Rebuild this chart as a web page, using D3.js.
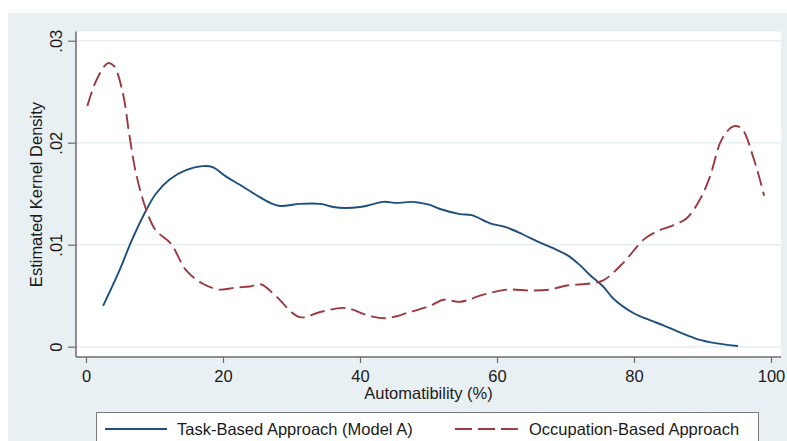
<!DOCTYPE html>
<html>
<head>
<meta charset="utf-8">
<script src="https://cdn.jsdelivr.net/npm/d3@7"></script>
<style>
  body { margin: 0; background: #ffffff; }
  svg { display: block; }
  text { font-family: "Liberation Sans", Arial, sans-serif; fill: #1a1a1a; }
</style>
</head>
<body>
<svg id="chart" width="787" height="441"></svg>
<script>
// ---- Data ----
const taskX = [2.5, 4.9, 6.6, 8.8, 10.2, 12.2, 14.6, 17.0, 18.5, 20.4, 22.4, 24.8, 26.9, 28.3, 31.2, 34.2, 36.1, 37.8, 40.0, 41.5, 43.4, 45.4, 47.5, 48.8, 50.2, 51.7, 54.6, 56.3, 59.0, 61.4, 63.8, 66.3, 68.7, 70.2, 72.1, 73.6, 75.5, 77.0, 79.9, 82.3, 84.3, 86.7, 89.2, 92.1, 95.2];
const taskY = [0.0040, 0.0075, 0.0103, 0.0134, 0.0150, 0.0164, 0.0173, 0.0177, 0.0176, 0.0167, 0.0159, 0.0149, 0.0141, 0.0138, 0.0140, 0.0140, 0.0137, 0.0136, 0.0137, 0.0139, 0.0142, 0.0141, 0.0142, 0.0141, 0.0139, 0.0135, 0.0130, 0.0129, 0.0121, 0.0117, 0.0110, 0.0102, 0.0095, 0.0090, 0.0080, 0.0070, 0.0059, 0.0047, 0.0033, 0.0026, 0.0021, 0.0014, 0.00075, 0.00033, 0.00007];

const occX = [0.2, 1.5, 3.2, 4.1, 5.4, 6.3, 7.3, 8.8, 10.2, 12.4, 14.6, 17.0, 19.5, 21.9, 23.9, 25.6, 27.8, 31.2, 34.2, 37.8, 41.5, 43.9, 47.3, 50.2, 52.2, 54.6, 58.0, 61.4, 64.8, 67.7, 70.2, 73.6, 75.5, 78.4, 81.4, 83.3, 85.7, 87.7, 89.6, 91.1, 92.8, 94.5, 95.7, 97.4, 99.0];
const occY = [0.0236, 0.0261, 0.0278, 0.0275, 0.0248, 0.0209, 0.0170, 0.0134, 0.0114, 0.0101, 0.0075, 0.0062, 0.0056, 0.0058, 0.0059, 0.0061, 0.0049, 0.0029, 0.0034, 0.0038, 0.0030, 0.0028, 0.0034, 0.0040, 0.0046, 0.0044, 0.0051, 0.0056, 0.0055, 0.0056, 0.0060, 0.0062, 0.0065, 0.0082, 0.0105, 0.0113, 0.0119, 0.0126, 0.0144, 0.0167, 0.0203, 0.0216, 0.0214, 0.0186, 0.0148];

const xTicks = [0, 20, 40, 60, 80, 100];
const yTicks = [0, 0.01, 0.02, 0.03];
const yTickLabels = ["0", ".01", ".02", ".03"];
const seriesNames = ["Task-Based Approach (Model A)", "Occupation-Based Approach"];
const xTitle = "Automatibility (%)";
const yTitle = "Estimated Kernel Density";

// ---- Layout ----
const W = 787, H = 441;
const FS = 16.5;
const svg = d3.select("#chart");
const plotL = 76, plotR = 781, plotT = 31.5, plotB = 357;
const x = d3.scaleLinear().domain([0, 100]).range([86, 771]);
const y = d3.scaleLinear().domain([0, 0.03]).range([346.7, 40.7]);

const blue = "#1f4f7e";
const red = "#9a3a40";
const bgPanel = "#e9f0f3";

// outer panel
svg.append("rect").attr("x", 8).attr("y", 13).attr("width", W - 8).attr("height", H - 13).attr("fill", bgPanel);
// plot region
svg.append("rect").attr("x", plotL).attr("y", plotT).attr("width", plotR - plotL).attr("height", plotB - plotT).attr("fill", "#ffffff");

// gridlines
svg.append("g").selectAll("line").data(yTicks).join("line")
  .attr("x1", plotL).attr("x2", plotR)
  .attr("y1", d => y(d)).attr("y2", d => y(d))
  .attr("stroke", "#e6eef2").attr("stroke-width", 1.6);

// Y axis
const yAxis = d3.axisLeft(y).tickValues(yTicks).tickFormat((d, i) => yTickLabels[i]).tickSize(8).tickPadding(0);
const gy = svg.append("g").attr("transform", `translate(${plotL},0)`).call(yAxis);
gy.select(".domain").attr("d", `M0,${plotT}V${plotB}`).attr("stroke", "#6b6b6b").attr("stroke-width", 1.5);
gy.selectAll(".tick line").attr("stroke", "#6b6b6b").attr("stroke-width", 1.2);
gy.selectAll(".tick text")
  .attr("x", null).attr("dy", null)
  .attr("transform", "translate(-14,0) rotate(-90)")
  .attr("text-anchor", "middle")
  .attr("font-size", FS)
  .attr("font-family", "'Liberation Sans', Arial, sans-serif")
  .attr("fill", "#1a1a1a");

// X axis
const xAxis = d3.axisBottom(x).tickValues(xTicks).tickFormat(d3.format("d")).tickSize(6).tickPadding(7);
const gx = svg.append("g").attr("transform", `translate(0,${plotB})`).call(xAxis);
gx.select(".domain").attr("d", `M${plotL},0H${plotR}`).attr("stroke", "#6b6b6b").attr("stroke-width", 1.5);
gx.selectAll(".tick line").attr("stroke", "#6b6b6b").attr("stroke-width", 1.2);
gx.selectAll(".tick text")
  .attr("font-size", FS)
  .attr("font-family", "'Liberation Sans', Arial, sans-serif")
  .attr("fill", "#1a1a1a");

// Axis titles
svg.append("text").attr("x", (x(0) + x(100)) / 2).attr("y", 399)
  .attr("text-anchor", "middle").attr("font-size", FS).text(xTitle);
svg.append("text").attr("transform", "translate(41.5,194.5) rotate(-90)")
  .attr("text-anchor", "middle").attr("font-size", FS).text(yTitle);

// Lines
const line = d3.line().x(d => x(d[0])).y(d => y(d[1])).curve(d3.curveCatmullRom.alpha(0.5));
const taskData = taskX.map((v, i) => [v, taskY[i]]);
const occData = occX.map((v, i) => [v, occY[i]]);

svg.append("path").datum(taskData).attr("d", line)
  .attr("fill", "none").attr("stroke", blue).attr("stroke-width", 1.9).attr("stroke-linejoin", "round");
svg.append("path").datum(occData).attr("d", line)
  .attr("fill", "none").attr("stroke", red).attr("stroke-width", 1.9)
  .attr("stroke-dasharray", "15,6");

// Legend
const lg = svg.append("g");
lg.append("rect").attr("x", 96.5).attr("y", 412.5).attr("width", 662).attr("height", 40)
  .attr("fill", "#ffffff").attr("stroke", "#7a7a7a").attr("stroke-width", 1);
lg.append("line").attr("x1", 105).attr("x2", 167).attr("y1", 429).attr("y2", 429)
  .attr("stroke", blue).attr("stroke-width", 1.9);
lg.append("text").attr("x", 177).attr("y", 435).attr("font-size", FS).text(seriesNames[0]);
lg.append("line").attr("x1", 455).attr("x2", 518).attr("y1", 429).attr("y2", 429)
  .attr("stroke", red).attr("stroke-width", 1.9).attr("stroke-dasharray", "17,6");
lg.append("text").attr("x", 529).attr("y", 435).attr("font-size", FS).text(seriesNames[1]);
</script>
</body>
</html>
